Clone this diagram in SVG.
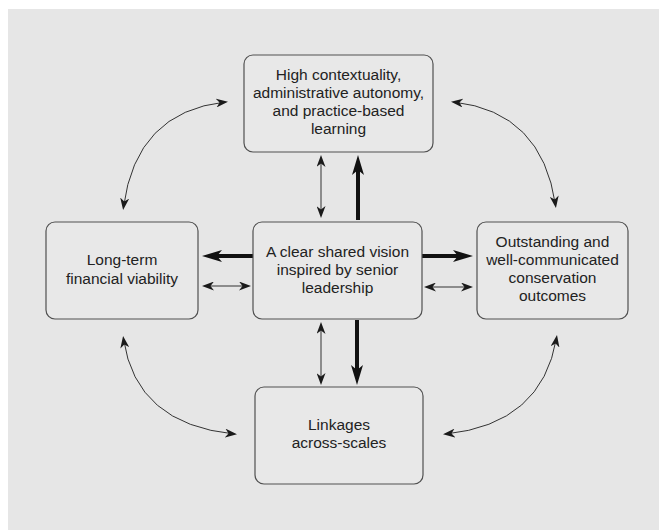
<svg xmlns="http://www.w3.org/2000/svg" width="659" height="530" viewBox="0 0 659 530">
<defs>
<style>
.box{fill:#e8e8e8;stroke:#505050;stroke-width:1.2}
.t{font-family:"Liberation Sans",Arial,sans-serif;font-size:15.5px;fill:#222;text-anchor:middle}
.thin{fill:none;stroke:#333;stroke-width:1}
.thick{fill:none;stroke:#111;stroke-width:4}
</style>
<marker id="ah" viewBox="0 0 12 9" markerWidth="12" markerHeight="9" refX="9" refY="4.5" orient="auto-start-reverse" markerUnits="userSpaceOnUse">
<path d="M0,0 L12,4.5 L0,9 L3.5,4.5 z" fill="#1a1a1a"/>
</marker>
<marker id="ahb" viewBox="0 0 20 12" markerWidth="20" markerHeight="12" refX="12" refY="6" orient="auto" markerUnits="userSpaceOnUse">
<path d="M0,0 L20,6 L0,12 L5,6 z" fill="#111"/>
</marker>
</defs>
<rect x="8" y="9" width="651" height="521" fill="#e6e6e6"/>
<g id="connectors">
<line class="thin" x1="321" y1="158" x2="321" y2="215" marker-start="url(#ah)" marker-end="url(#ah)"/>
<line class="thick" x1="358" y1="220" x2="358" y2="163" marker-end="url(#ahb)"/>
<line class="thin" x1="321" y1="325" x2="321" y2="382" marker-start="url(#ah)" marker-end="url(#ah)"/>
<line class="thick" x1="357" y1="320" x2="357" y2="377" marker-end="url(#ahb)"/>
<line class="thick" x1="253" y1="256" x2="210" y2="256" marker-end="url(#ahb)"/>
<line class="thin" x1="205" y1="286" x2="248" y2="286" marker-start="url(#ah)" marker-end="url(#ah)"/>
<line class="thick" x1="422" y1="256" x2="465" y2="256" marker-end="url(#ahb)"/>
<line class="thin" x1="427" y1="287" x2="470" y2="287" marker-start="url(#ah)" marker-end="url(#ah)"/>
<path class="thin" d="M225,102 Q136,112 123.5,207" marker-start="url(#ah)" marker-end="url(#ah)"/>
<path class="thin" d="M454,102 Q542,112 555.5,205" marker-start="url(#ah)" marker-end="url(#ah)"/>
<path class="thin" d="M123.5,339 Q136,424 234,434" marker-start="url(#ah)" marker-end="url(#ah)"/>
<path class="thin" d="M556.5,338 Q542,424 446,434" marker-start="url(#ah)" marker-end="url(#ah)"/>
</g>
<g id="top">
<rect class="box" x="244" y="55" width="189" height="97" rx="9"/>
<text class="t" x="338.5" y="80">High contextuality,</text>
<text class="t" x="338.5" y="98">administrative autonomy,</text>
<text class="t" x="338.5" y="116">and practice-based</text>
<text class="t" x="338.5" y="134">learning</text>
</g>
<g id="center">
<rect class="box" x="253" y="222" width="169" height="97" rx="9"/>
<text class="t" x="337.5" y="257">A clear shared vision</text>
<text class="t" x="337.5" y="275">inspired by senior</text>
<text class="t" x="337.5" y="293">leadership</text>
</g>
<g id="left">
<rect class="box" x="46" y="222" width="152" height="97" rx="9"/>
<text class="t" x="122" y="265">Long-term</text>
<text class="t" x="122" y="284">financial viability</text>
</g>
<g id="right">
<rect class="box" x="477" y="222" width="151" height="97" rx="9"/>
<text class="t" x="552.5" y="247">Outstanding and</text>
<text class="t" x="552.5" y="265">well-communicated</text>
<text class="t" x="552.5" y="283">conservation</text>
<text class="t" x="552.5" y="301">outcomes</text>
</g>
<g id="bottom">
<rect class="box" x="255" y="387" width="168" height="97" rx="9"/>
<text class="t" x="339" y="430">Linkages</text>
<text class="t" x="339" y="448">across-scales</text>
</g>
</svg>
